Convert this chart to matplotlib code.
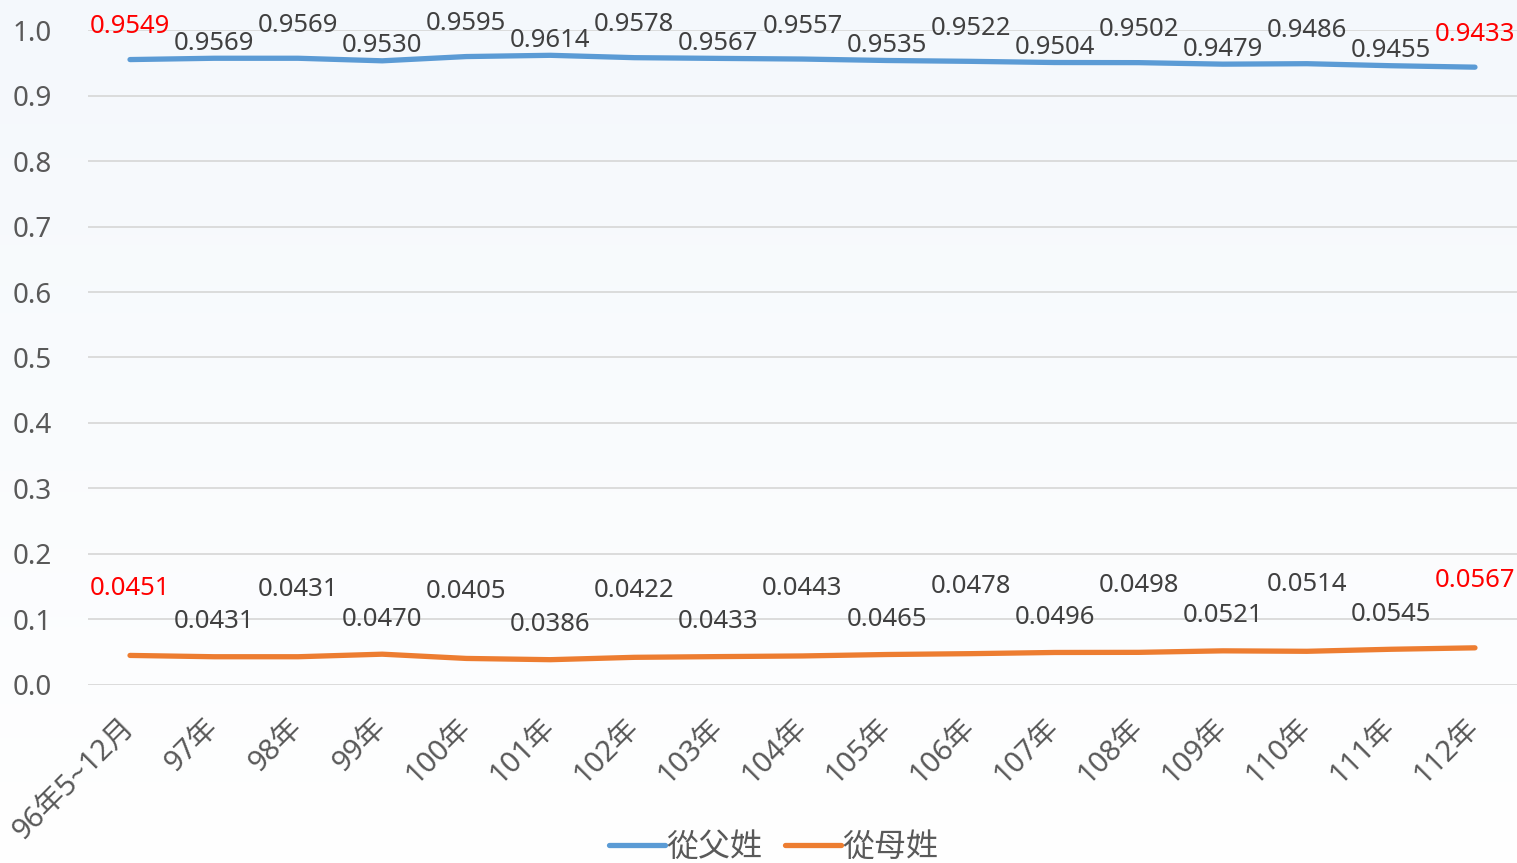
import numpy as np
import matplotlib.pyplot as plt
import matplotlib.transforms as mtransforms

plt.rcParams['font.family'] = ['Noto Sans', 'Noto Sans CJK TC', 'DejaVu Sans']

# data
years = ['96年5~12月', '97年', '98年', '99年', '100年', '101年', '102年', '103年', '104年',
         '105年', '106年', '107年', '108年', '109年', '110年', '111年', '112年']
father = [0.9549, 0.9569, 0.9569, 0.9530, 0.9595, 0.9614, 0.9578, 0.9567, 0.9557,
          0.9535, 0.9522, 0.9504, 0.9502, 0.9479, 0.9486, 0.9455, 0.9433]
mother = [0.0451, 0.0431, 0.0431, 0.0470, 0.0405, 0.0386, 0.0422, 0.0433, 0.0443,
          0.0465, 0.0478, 0.0496, 0.0498, 0.0521, 0.0514, 0.0545, 0.0567]
yticks = [0.0, 0.1, 0.2, 0.3, 0.4, 0.5, 0.6, 0.7, 0.8, 0.9, 1.0]

blue = '#5B9BD5'
orange = '#ED7D31'
txt_col = '#404040'

fig = plt.figure(figsize=(15.17, 8.63), dpi=100)

# light gradient background
bg = fig.add_axes([0, 0, 1, 1], zorder=-10)
grad = np.linspace(0, 1, 256).reshape(-1, 1)
top = np.array([244, 248, 252]) / 255.0
bot = np.array([255, 255, 255]) / 255.0
img = top[None, None, :] * (1 - grad[:, :, None]) + bot[None, None, :] * grad[:, :, None]
bg.imshow(img, aspect='auto', extent=[0, 1, 0, 1])
bg.axis('off')

ax = fig.add_axes([0.058, 0.2063, 0.942, 0.7589])
ax.patch.set_alpha(0)
x = np.arange(len(years))
ax.plot(x, father, color=blue, lw=3.8, solid_capstyle='round', label='從父姓', zorder=3)
ax.plot(x, mother, color=orange, lw=3.8, solid_capstyle='round', label='從母姓', zorder=3)

ax.set_xlim(-0.5, len(years) - 0.5)
ax.set_ylim(0, 1.0)
ax.set_yticks(yticks)
ax.set_yticklabels(['%.1f' % v for v in yticks])
ax.grid(axis='y', color='#D9D9D9', lw=1.3)
ax.set_axisbelow(True)
for s in ax.spines.values():
    s.set_visible(False)
ax.tick_params(axis='y', length=0, pad=26, labelsize=20, labelcolor='#595959')
ax.tick_params(axis='x', length=0, pad=20, labelsize=21, labelcolor='#595959')
ax.set_xticks(x)
ax.set_xticklabels(years, rotation=45, ha='right', va='top', rotation_mode='anchor')
shift = mtransforms.ScaledTranslation(-10 / 100, 0, fig.dpi_scale_trans)
for lab in ax.get_xticklabels():
    lab.set_transform(lab.get_transform() + shift)

# data labels
n = len(years)
for i in range(n):
    c = 'red' if i in (0, n - 1) else txt_col
    off_f = 33 if i % 2 == 0 else 15
    off_m = 67 if i % 2 == 0 else 35
    ax.annotate('%.4f' % father[i], (x[i], father[i]), xytext=(0, off_f), textcoords='offset pixels',
                ha='center', va='center', fontsize=18.5, color=c, annotation_clip=False)
    ax.annotate('%.4f' % mother[i], (x[i], mother[i]), xytext=(0, off_m), textcoords='offset pixels',
                ha='center', va='center', fontsize=18.5, color=c, annotation_clip=False)

leg = fig.legend(loc='center', bbox_to_anchor=(0.51, 0.018), ncol=2, frameon=False,
                 fontsize=23, handlelength=1.75, handletextpad=0.05, columnspacing=0.7)
for t in leg.get_texts():
    t.set_color('#595959')

fig.savefig('out.png', dpi=100)
